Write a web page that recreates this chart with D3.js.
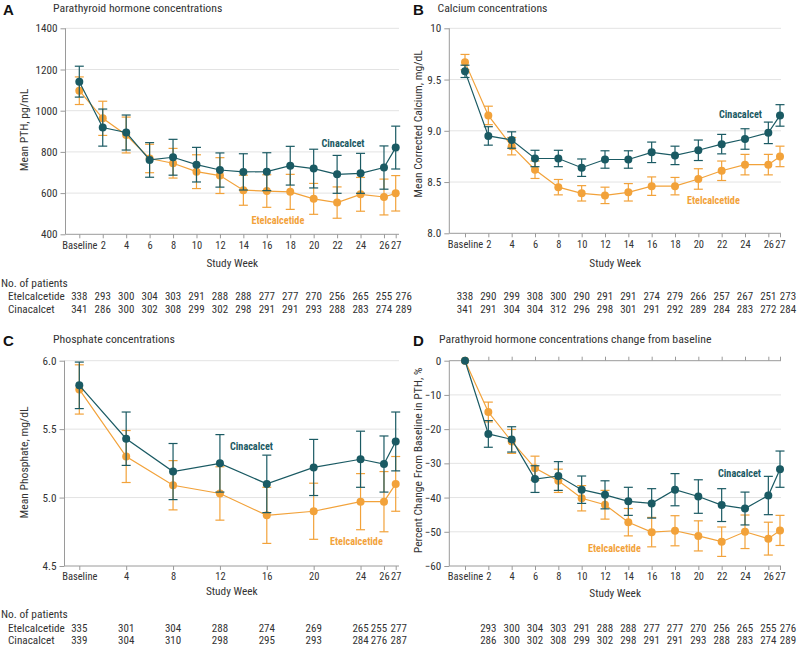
<!DOCTYPE html>
<html>
<head>
<meta charset="utf-8">
<script src="https://cdn.jsdelivr.net/npm/d3@7"></script>
<style>
  body { margin: 0; background: #fff; }
  svg { display: block; }
</style>
</head>
<body>
<svg id="chart" width="800" height="646"></svg>
<script>
// ---- data ----
var weeks = [0, 2, 4, 6, 8, 10, 12, 14, 16, 18, 20, 22, 24, 26, 27];
var weeksC = [0, 4, 8, 12, 16, 20, 24, 26, 27];
var weeksD = [2, 4, 6, 8, 10, 12, 14, 16, 18, 20, 22, 24, 26, 27];

// A: PTH pg/mL
var pthCina    = [1141, 918, 894, 761, 774, 738, 712, 703, 704, 733, 719, 691, 696, 724, 821];
var pthCinaErr = [75, 90, 85, 84, 87, 84, 83, 88, 92, 94, 94, 92, 97, 105, 104];
var pthEtel    = [1097, 963, 882, 768, 745, 704, 685, 614, 610, 606, 572, 554, 594, 581, 599];
var pthEtelErr = [67, 83, 87, 69, 72, 82, 87, 73, 79, 85, 75, 76, 82, 87, 86];

// B: corrected calcium mg/dL
var caCina    = [9.58, 8.95, 8.91, 8.73, 8.73, 8.64, 8.72, 8.72, 8.79, 8.76, 8.81, 8.87, 8.92, 8.98, 9.15];
var caCinaErr = [0.06, 0.09, 0.08, 0.08, 0.08, 0.085, 0.085, 0.085, 0.1, 0.09, 0.1, 0.095, 0.1, 0.105, 0.105];
var caEtel    = [9.67, 9.15, 8.85, 8.62, 8.45, 8.39, 8.37, 8.40, 8.46, 8.46, 8.53, 8.61, 8.67, 8.67, 8.75];
var caEtelErr = [0.075, 0.09, 0.085, 0.085, 0.075, 0.075, 0.08, 0.085, 0.09, 0.085, 0.1, 0.095, 0.1, 0.1, 0.1];

// C: phosphate mg/dL
var phCina    = [5.82, 5.43, 5.19, 5.25, 5.10, 5.22, 5.28, 5.245, 5.41];
var phCinaErr = [0.17, 0.195, 0.205, 0.21, 0.21, 0.205, 0.205, 0.205, 0.215];
var phEtel    = [5.79, 5.30, 5.09, 5.03, 4.87, 4.90, 4.97, 4.97, 5.10];
var phEtelErr = [0.18, 0.19, 0.18, 0.195, 0.205, 0.205, 0.205, 0.22, 0.2];

// D: % change in PTH
var pctCina    = [0, -21.4, -23.0, -34.6, -33.7, -37.7, -39.2, -41.1, -41.7, -37.7, -39.7, -42.2, -43.2, -39.4, -31.7];
var pctCinaErr = [0, 3.9, 3.7, 3.9, 4.2, 4.0, 4.1, 4.1, 4.3, 4.7, 4.9, 4.8, 4.8, 5.6, 5.3];
var pctEtel    = [0, -15.0, -23.6, -31.4, -35.1, -40.2, -42.1, -47.2, -50.1, -49.7, -51.2, -52.9, -50.0, -52.0, -49.6];
var pctEtelErr = [0, 2.9, 3.5, 3.5, 3.4, 3.7, 4.2, 4.0, 4.3, 4.4, 4.4, 4.3, 4.9, 4.8, 4.4];

// number of patients
var nA_etel = [338, 293, 300, 304, 303, 291, 288, 288, 277, 277, 270, 256, 265, 255, 276];
var nA_cina = [341, 286, 300, 302, 308, 299, 302, 298, 291, 291, 293, 288, 283, 274, 289];
var nB_etel = [338, 290, 299, 308, 300, 290, 291, 291, 274, 279, 266, 257, 267, 251, 273];
var nB_cina = [341, 291, 304, 304, 312, 296, 298, 301, 291, 292, 289, 284, 283, 272, 284];
var nC_etel = [335, 301, 304, 288, 274, 269, 265, 255, 277];
var nC_cina = [339, 304, 310, 298, 295, 293, 284, 276, 287];
var nD_etel = [293, 300, 304, 303, 291, 288, 288, 277, 277, 270, 256, 265, 255, 276];
var nD_cina = [286, 300, 302, 308, 299, 302, 298, 291, 291, 293, 288, 283, 274, 289];

// ---- style ----
var TEAL = "#1a5a63";
var ORANGE = "#f2a23a";
var TXT = "#333";
var AXIS = "#9a9a9a";
var GRID = "#e3e3e3";
var FONT = '"Roboto Condensed","Arial Narrow",sans-serif';
var FONT_BOLD = '"Liberation Sans","Arial",sans-serif';

var svg = d3.select("#chart").attr("font-family", FONT);

function weekLabel(w) { return w === 0 ? "Baseline" : String(w); }

function panel(cfg) {
    var g = svg.append("g").attr("transform", "translate(" + cfg.dx + "," + cfg.dy + ")");

    var x = d3.scaleLinear().domain([0, 27]).range([cfg.x0, cfg.x27]);
    var y = d3.scaleLinear().domain(cfg.ydom).range([cfg.bottom, cfg.top]);

    // letter + title
    g.append("text").attr("x", cfg.lx).attr("y", 14.5)
        .attr("font-family", FONT_BOLD).attr("font-weight", "bold")
        .attr("font-size", "15px").attr("fill", "#111").text(cfg.letter);
    g.append("text").attr("x", cfg.tx).attr("y", 11.5)
        .attr("font-size", "11.8px").attr("fill", TXT).text(cfg.title);

    // gridlines
    g.append("g").selectAll("line")
        .data(cfg.yticks.filter(function(t){ return t !== cfg.ydom[0] && !(cfg.zeroAxis && t === 0); }))
        .enter().append("line")
        .attr("x1", cfg.left).attr("x2", cfg.right)
        .attr("y1", function(d){ return y(d); }).attr("y2", function(d){ return y(d); })
        .attr("stroke", GRID).attr("stroke-width", 1);

    // y axis
    var ya = g.append("g").attr("transform", "translate(" + cfg.left + ",0)")
        .call(d3.axisLeft(y).tickValues(cfg.yticks).tickSize(5).tickPadding(3).tickFormat(cfg.yfmt));
    ya.select(".domain").remove();
    ya.append("line").attr("x1", 0).attr("x2", 0).attr("y1", cfg.top).attr("y2", cfg.bottom)
        .attr("stroke", AXIS);
    ya.selectAll(".tick line").attr("stroke", AXIS);
    ya.selectAll(".tick text").attr("fill", TXT).attr("font-size", "11.2px").attr("font-family", FONT);

    // x axis
    var xa = g.append("g").attr("transform", "translate(0," + cfg.bottom + ")")
        .call(d3.axisBottom(x).tickValues(cfg.weeks).tickSize(4).tickPadding(3).tickFormat(weekLabel));
    xa.select(".domain").remove();
    xa.append("line").attr("x1", cfg.left).attr("x2", cfg.right).attr("y1", 0).attr("y2", 0)
        .attr("stroke", AXIS);
    xa.selectAll(".tick line").attr("stroke", AXIS);
    xa.selectAll(".tick text").attr("fill", TXT).attr("font-size", "10.5px").attr("font-family", FONT);

    if (cfg.zeroAxis) {
        var za = g.append("g").attr("transform", "translate(0," + y(0) + ")")
            .call(d3.axisTop(x).tickValues(cfg.weeks).tickSize(4).tickFormat(""));
        za.select(".domain").remove();
        za.append("line").attr("x1", cfg.left).attr("x2", cfg.right).attr("stroke", AXIS);
        za.selectAll(".tick line").attr("stroke", AXIS);
    }

    // axis titles
    g.append("text")
        .attr("transform", "translate(" + cfg.ylx + "," + cfg.yly + ") rotate(-90)")
        .attr("text-anchor", "middle").attr("dy", "0.35em")
        .attr("font-size", "11.6px").attr("fill", TXT).text(cfg.ylabel);
    g.append("text")
        .attr("x", (cfg.left + cfg.right) / 2).attr("y", cfg.bottom + cfg.swy)
        .attr("text-anchor", "middle").attr("font-size", "11.3px").attr("fill", TXT)
        .text("Study Week");

    // series
    var line = d3.line().x(function(d){ return x(d.w); }).y(function(d){ return y(d.v); });
    var series = [
        { color: ORANGE, vals: cfg.etel, errs: cfg.etelErr },
        { color: TEAL, vals: cfg.cina, errs: cfg.cinaErr }
    ];
    series.forEach(function(s) {
        var pts = cfg.weeks.map(function(w, i){ return { w: w, v: s.vals[i], e: s.errs[i] }; });
        var sg = g.append("g");
        var eb = sg.selectAll("g.err").data(pts.filter(function(p){ return p.e > 0; }))
            .enter().append("g").attr("stroke", s.color).attr("stroke-width", 1.2);
        eb.append("line")
            .attr("x1", function(d){ return x(d.w); }).attr("x2", function(d){ return x(d.w); })
            .attr("y1", function(d){ return y(d.v + d.e); }).attr("y2", function(d){ return y(d.v - d.e); });
        eb.append("line")
            .attr("x1", function(d){ return x(d.w) - 4.5; }).attr("x2", function(d){ return x(d.w) + 4.5; })
            .attr("y1", function(d){ return y(d.v + d.e); }).attr("y2", function(d){ return y(d.v + d.e); });
        eb.append("line")
            .attr("x1", function(d){ return x(d.w) - 4.5; }).attr("x2", function(d){ return x(d.w) + 4.5; })
            .attr("y1", function(d){ return y(d.v - d.e); }).attr("y2", function(d){ return y(d.v - d.e); });
        sg.append("path").datum(pts).attr("d", line)
            .attr("fill", "none").attr("stroke", s.color).attr("stroke-width", 1.2);
        sg.selectAll("circle").data(pts).enter().append("circle")
            .attr("cx", function(d){ return x(d.w); }).attr("cy", function(d){ return y(d.v); })
            .attr("r", 4).attr("fill", s.color);
    });

    // series labels
    g.append("text").attr("x", cfg.cinaLab[0]).attr("y", cfg.cinaLab[1])
        .attr("font-weight", "bold").attr("font-size", "10.2px").attr("fill", TEAL).text("Cinacalcet");
    g.append("text").attr("x", cfg.etelLab[0]).attr("y", cfg.etelLab[1])
        .attr("font-weight", "bold").attr("font-size", "10.2px").attr("fill", ORANGE).text("Etelcalcetide");

    // number of patients
    var rows = g.append("g").attr("font-size", "11px").attr("fill", TXT);
    var r1 = cfg.bottom + cfg.rowY, r2 = r1 + 12.4;
    if (cfg.header) {
        rows.append("text").attr("x", -cfg.dx + 1).attr("y", r1 - 13.3).attr("font-size", "11.4px").text("No. of patients");
        rows.append("text").attr("x", -cfg.dx + 8).attr("y", r1).attr("font-size", "11.2px").text("Etelcalcetide");
        rows.append("text").attr("x", -cfg.dx + 8).attr("y", r2).attr("font-size", "11.2px").text("Cinacalcet");
    }
    [[cfg.nEtel, r1], [cfg.nCina, r2]].forEach(function(r) {
        rows.append("g").selectAll("text").data(r[0]).enter().append("text")
            .attr("x", function(d, i){ var w = cfg.nWeeks[i]; return x(w) + (cfg.nudge[w] || 0); })
            .attr("y", r[1])
            .attr("text-anchor", "middle").text(function(d){ return d; });
    });
}

panel({
    dx: 0, dy: 0, letter: "A", lx: 3, tx: 53, title: "Parathyroid hormone concentrations",
    left: 65.5, right: 399, top: 28.3, bottom: 234.3, x0: 79.3, x27: 395.7,
    ydom: [400, 1400], yticks: [400, 600, 800, 1000, 1200, 1400], yfmt: d3.format("d"),
    ylabel: "Mean PTH, pg/mL", ylx: 24, yly: 130, swy: 33, rowY: 66,
    weeks: weeks, cina: pthCina, cinaErr: pthCinaErr, etel: pthEtel, etelErr: pthEtelErr,
    cinaLab: [321.5, 146.5], etelLab: [251.5, 223.5],
    header: true, nWeeks: weeks, nEtel: nA_etel, nCina: nA_cina, nudge: { 27: 8 }
});

panel({
    dx: 0, dy: 0, letter: "B", lx: 413, tx: 437.5, title: "Calcium concentrations",
    left: 449.3, right: 781, top: 28.3, bottom: 233.3, x0: 465, x27: 780,
    ydom: [8, 10], yticks: [8, 8.5, 9, 9.5, 10],
    yfmt: function(d){ return d === 10 ? "10" : d.toFixed(1); },
    ylabel: "Mean Corrected Calcium, mg/dL", ylx: 418, yly: 124, swy: 34, rowY: 67,
    weeks: weeks, cina: caCina, cinaErr: caCinaErr, etel: caEtel, etelErr: caEtelErr,
    cinaLab: [719, 117.5], etelLab: [687, 203.5],
    header: false, nWeeks: weeks, nEtel: nB_etel, nCina: nB_cina, nudge: { 27: 8 }
});

panel({
    dx: 0, dy: 331.5, letter: "C", lx: 3, tx: 53, title: "Phosphate concentrations",
    left: 64.5, right: 399, top: 29.2, bottom: 234.5, x0: 79.3, x27: 395.7,
    ydom: [4.5, 6], yticks: [4.5, 5, 5.5, 6], yfmt: d3.format(".1f"),
    ylabel: "Mean Phosphate, mg/dL", ylx: 24, yly: 131, swy: 29, rowY: 65.5,
    weeks: weeksC, cina: phCina, cinaErr: phCinaErr, etel: phEtel, etelErr: phEtelErr,
    cinaLab: [230, 118.5], etelLab: [330, 213.5],
    header: true, nWeeks: weeksC, nEtel: nC_etel, nCina: nC_cina, nudge: { 26: -5, 27: 3 }
});

panel({
    dx: 0, dy: 331.5, letter: "D", lx: 413, tx: 439, title: "Parathyroid hormone concentrations change from baseline",
    left: 449.3, right: 781, top: 29.2, bottom: 234.5, x0: 465, x27: 780,
    ydom: [-60, 0], yticks: [-60, -50, -40, -30, -20, -10, 0], yfmt: d3.format("d"),
    ylabel: "Percent Change From Baseline in PTH, %", ylx: 418, yly: 129, swy: 31, rowY: 65.5, zeroAxis: true,
    weeks: weeks, cina: pctCina, cinaErr: pctCinaErr, etel: pctEtel, etelErr: pctEtelErr,
    cinaLab: [718, 145.5], etelLab: [588, 220.5],
    header: false, nWeeks: weeksD, nEtel: nD_etel, nCina: nD_cina, nudge: { 27: 8 }
});
</script>
</body>
</html>
